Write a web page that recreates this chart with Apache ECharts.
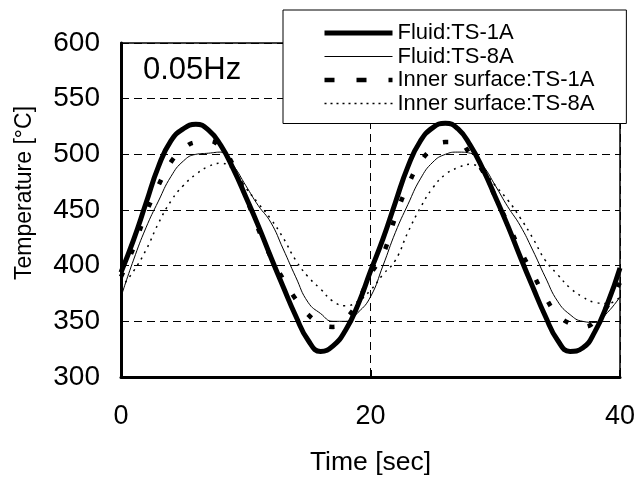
<!DOCTYPE html>
<html>
<head>
<meta charset="utf-8">
<script src="https://cdn.jsdelivr.net/npm/echarts@6/dist/echarts.min.js"></script>
<style>
  html, body { margin: 0; padding: 0; background: #fff; }
  #chart { width: 640px; height: 481px; }
</style>
</head>
<body>
<div id="chart"></div>
<script>
// time axis, one reading per second
const times = [0,1,2,3,4,5,6,7,8,9,10,11,12,13,14,15,16,17,18,19,20,
  21,22,23,24,25,26,27,28,29,30,31,32,33,34,35,36,37,38,39,40];

// values (deg C)
const fluid1A = [394,423,456,489,512,523,527,522,508,487,462,436,408,381,355,333,323,328,342,365,395,
  424,457,489,512,524,528,523,508,487,462,436,408,381,355,333,323,326,341,366,398];
const fluid8A = [372,405,434,458,480,494,500,501,502,490,472,454,439,415,390,367,357,350,350,358,372,
  400,430,455,478,493,500,502,501,490,472,453,436,414,390,368,356,350,349,358,372];
const inner1A = [390,416,447,472,493,505,511,512,506,490,462,433,408,388,370,356,348,345,352,368,392,
  410,444,472,493,505,511,511,500,485,462,438,414,393,372,356,348,345,350,364,385];
const inner8A = [380,395,414,438,458,472,482,489,492,486,470,456,442,425,405,390,379,368,364,368,378,
  392,405,430,452,470,482,488,491,485,472,459,443,425,405,392,380,372,367,366,372];

const seriesNames = ['Fluid:TS-1A', 'Fluid:TS-8A', 'Inner surface:TS-1A', 'Inner surface:TS-8A'];
const yTicks = [300, 350, 400, 450, 500, 550, 600];

function pairs(vals) {
  return times.map((t, i) => [t, vals[i]]);
}

const font = 'Liberation Sans, Arial, sans-serif';
let myChart = echarts.init(document.getElementById('chart'));

// line looks shared by plot and legend
const styles = [
  { color: '#000', width: 5 },
  { color: '#000', width: 1 },
  { color: '#000', width: 4.5, type: [5, 20] },
  { color: '#000', width: 1.5, type: [2, 5] }
];
const legendStyles = [
  { color: '#000', width: 5 },
  { color: '#000', width: 1.2 },
  { color: '#000', width: 4.5, type: [10, 22] },
  { color: '#000', width: 1.5, type: [2, 4] }
];

let option = {
  animation: false,
  backgroundColor: '#fff',
  grid: {
    left: 121, right: 20, top: 43, bottom: 103,
    show: true, borderColor: '#000', borderWidth: 1.5
  },
  legend: {
    orient: 'vertical',
    left: 283, top: 10,
    padding: [12, 32, 9, 39],
    itemWidth: 68, itemHeight: 14, itemGap: 1.5,
    backgroundColor: '#fff', borderColor: '#000', borderWidth: 1,
    itemStyle: { opacity: 0 },
    textStyle: { fontFamily: font, fontSize: 22, color: '#000' },
    data: seriesNames.map((n, i) => ({ name: n, lineStyle: legendStyles[i] }))
  },
  graphic: [{
    type: 'text', left: 143, top: 55,
    style: { text: '0.05Hz', font: '31px ' + font, fill: '#000' }
  }, {
    // y axis title sits a bit above the plot's middle
    type: 'text', x: 25, y: 193, rotation: Math.PI / 2,
    style: {
      text: 'Temperature [°C]', font: '23px ' + font, fill: '#000',
      align: 'center', verticalAlign: 'middle'
    }
  }],
  xAxis: {
    type: 'value', min: 0, max: 40, interval: 20,
    name: 'Time [sec]', nameLocation: 'middle', nameGap: 72,
    nameTextStyle: { fontFamily: font, fontSize: 26.5, color: '#000' },
    axisLine: { lineStyle: { color: '#000', width: 3 } },
    axisTick: { inside: true, length: 7, lineStyle: { color: '#000', width: 2 } },
    axisLabel: { fontFamily: font, fontSize: 27, color: '#000', margin: 26 },
    splitLine: { show: true, lineStyle: { color: '#000', type: [8, 5], width: 1 } }
  },
  yAxis: {
    type: 'value', min: yTicks[0], max: yTicks[yTicks.length - 1], interval: 50,
    axisLine: { show: true, lineStyle: { color: '#000', width: 3 } },
    axisTick: { show: true, inside: true, length: 5, lineStyle: { color: '#000', width: 1 } },
    axisLabel: { fontFamily: font, fontSize: 28, color: '#000', margin: 21 },
    splitLine: { show: true, lineStyle: { color: '#000', type: [8, 5], width: 1 } }
  },
  series: seriesNames.map((n, i) => ({
    name: n, type: 'line', smooth: true,
    data: pairs([fluid1A, fluid8A, inner1A, inner8A][i]),
    showSymbol: false, symbol: 'none', z: 5 - i,
    lineStyle: styles[i]
  }))
};

myChart.setOption(option);
window.addEventListener('resize', () => {
  myChart.resize();
});
</script>
</body>
</html>
